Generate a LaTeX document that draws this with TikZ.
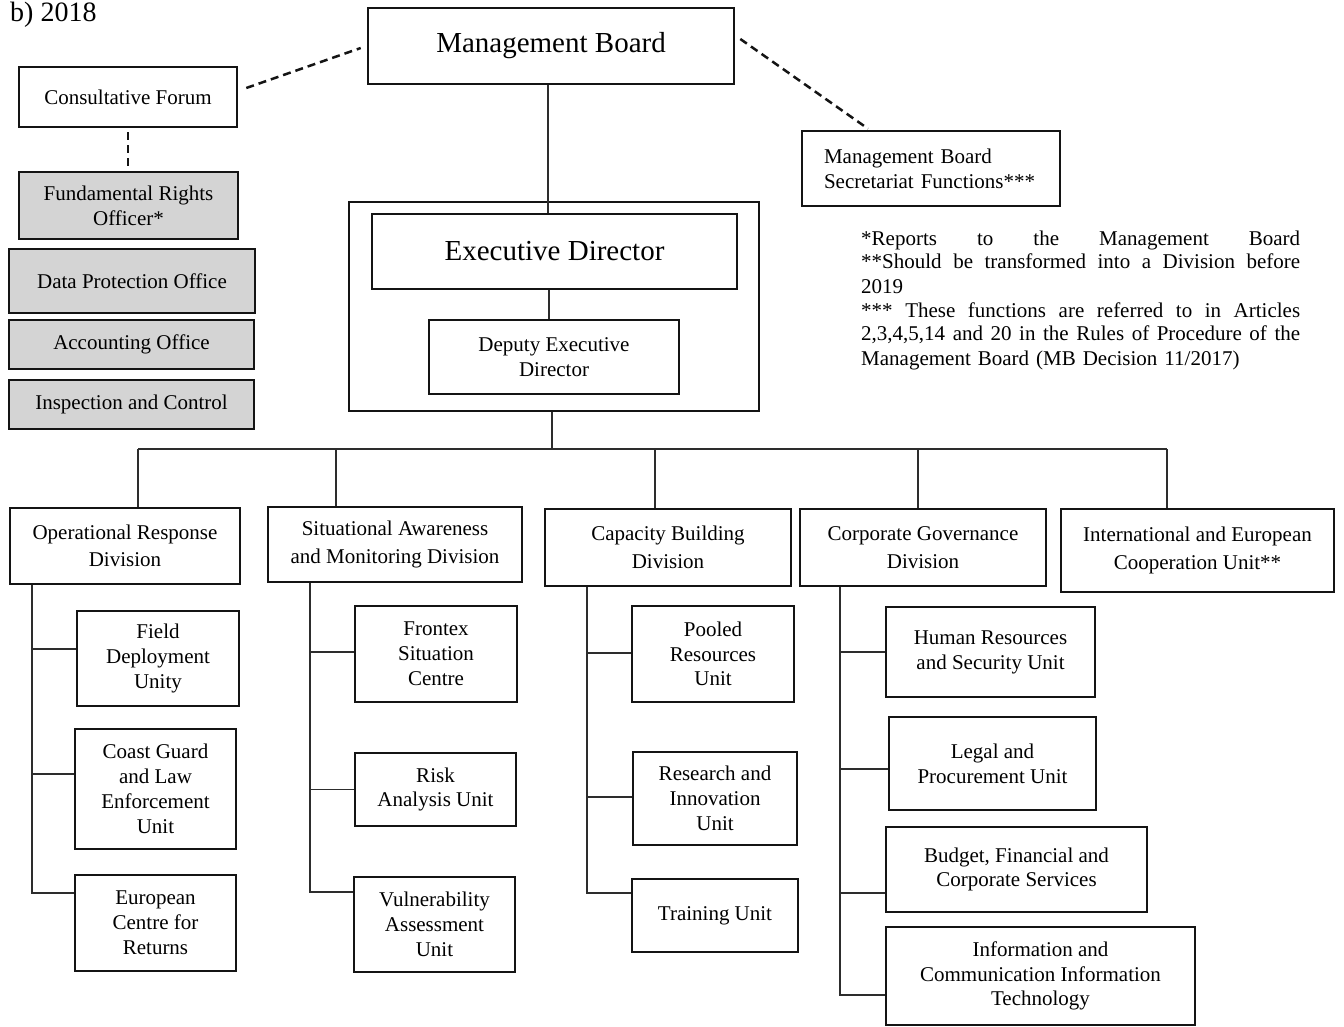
\documentclass[tikz,border=0pt]{standalone}
\usepackage{fontspec}
\setmainfont{Liberation Serif}
\definecolor{boxgray}{RGB}{212,212,212}
\definecolor{boxline}{RGB}{20,20,20}
\definecolor{connline}{RGB}{45,45,45}
% a line of the notes spread over the full measure
\newcommand{\spreadline}[1]{\makebox[439pt][s]{\spaceskip=.25em plus 1fil\relax #1}}
\begin{document}
\begin{tikzpicture}[x=1pt,y=-1pt,
  box/.style={draw=boxline, line width=2.6pt, inner sep=0pt, align=center,
              font=\fontsize{21}{24.8}\selectfont},
  greybox/.style={box, fill=boxgray},
  divbox/.style={box, font=\fontsize{21}{27.5}\selectfont},
  bigbox/.style={box, font=\fontsize{29}{34}\selectfont},
  conn/.style={draw=connline, line width=1.4pt},
  dashlink/.style={draw=boxline, line width=2.5pt, dash pattern=on 8pt off 5pt}]
\useasboundingbox (0,0) rectangle (1344,1027);
\fill[white] (0,0) rectangle (1344,1027);

% heading
\node[anchor=base west, inner sep=0pt, font=\fontsize{28}{32}\selectfont] (yr) at (10,22) {b) 2018};

% top level
\node[bigbox, minimum width=366pt, minimum height=76pt] (MB) at (551,46) {Management Board};
\node[box, minimum width=218pt, minimum height=60pt] (CF) at (128,97) {Consultative Forum};
\node[box, align=left, text width=214pt, inner xsep=22pt, minimum height=75pt] (MBS) at (931,168.5)
  {Management Board\\Secretariat Functions***};

% offices on the left
\node[greybox, minimum width=219pt, minimum height=67pt] (FRO) at (128.5,205.5) {Fundamental Rights\\Officer*};
\node[greybox, minimum width=246pt, minimum height=64pt] (DPO) at (132,281) {Data Protection Office};
\node[greybox, minimum width=245pt, minimum height=49pt] (ACO) at (131.5,344.5) {Accounting Office};
\node[greybox, minimum width=245pt, minimum height=49pt] (INC) at (131.5,404.5) {Inspection and Control};

% executive block
\node[box, minimum width=410pt, minimum height=209pt] (EX) at (554,306.5) {};
\node[bigbox, minimum width=365pt, minimum height=75pt] (ED) at (554.5,251.5) {Executive Director};
\node[box, minimum width=250pt, minimum height=74pt] (DED) at (554,357) {Deputy Executive\\Director};

% footnotes
\node[anchor=base west, inner sep=0pt, text width=439pt, align=left,
      font=\fontsize{21}{24}\selectfont] (note) at (861,245) {%
\spreadline{*Reports to the Management Board}\\
\spreadline{**Should be transformed into a Division before}\\
2019\\
\spreadline{*** These functions are referred to in Articles}\\
\spreadline{2,3,4,5,14 and 20 in the Rules of Procedure of the}\\
Management Board (MB Decision 11/2017)};

% divisions
\node[divbox, minimum width=230pt, minimum height=76pt] (OPR) at (125,546) {Operational Response\\Division};
\node[divbox, minimum width=254pt, minimum height=75pt] (SAM) at (395,544.5) {Situational Awareness\\and Monitoring Division};
\node[divbox, minimum width=246pt, minimum height=77pt] (CBD) at (668,547.5) {Capacity Building\\Division};
\node[divbox, minimum width=246pt, minimum height=77pt] (CGD) at (923,547.5) {Corporate Governance\\Division};
\node[divbox, minimum width=273pt, minimum height=83pt] (IEC) at (1197.5,550.5) {International and European\\Cooperation Unit**};

% units
\node[box, minimum width=162pt, minimum height=95pt] (FDU) at (158,658.5) {Field\\Deployment\\Unity};
\node[box, minimum width=161pt, minimum height=120pt] (CGL) at (155.5,789) {Coast Guard\\and Law\\Enforcement\\Unit};
\node[box, minimum width=161pt, minimum height=96pt] (ECR) at (155.5,923) {European\\Centre for\\Returns};

\node[box, minimum width=162pt, minimum height=96pt] (FSC) at (436,654) {Frontex\\Situation\\Centre};
\node[box, minimum width=161pt, minimum height=73pt] (RAU) at (435.5,789.5) {Risk\\Analysis Unit};
\node[box, minimum width=161pt, minimum height=95pt] (VAU) at (434.5,924.5) {Vulnerability\\Assessment\\Unit};

\node[box, minimum width=162pt, minimum height=96pt] (PRU) at (713,654) {Pooled\\Resources\\Unit};
\node[box, minimum width=164pt, minimum height=93pt] (RIU) at (715,798.5) {Research and\\Innovation\\Unit};
\node[box, minimum width=166pt, minimum height=73pt] (TRU) at (715,915.5) {Training Unit};

\node[box, minimum width=209pt, minimum height=90pt] (HRS) at (990.5,652) {Human Resources\\and Security Unit};
\node[box, minimum width=207pt, minimum height=93pt] (LPU) at (992.5,763.5) {Legal and\\Procurement Unit};
\node[box, minimum width=261pt, minimum height=85pt] (BFC) at (1016.5,869.5) {Budget, Financial and\\Corporate Services};
\node[box, minimum width=309pt, minimum height=98pt] (ICT) at (1040.5,976) {Information and\\Communication Information\\Technology};

% dashed links
\draw[dashlink] ([xshift=8pt,yshift=9pt]CF.east) -- ([xshift=-6pt,yshift=-2pt]MB.west);
\draw[dashlink] ([xshift=5pt,yshift=7pt]MB.east) -- ([xshift=-63pt,yshift=1pt]MBS.north);
\draw[dashlink] ([yshift=-4pt]CF.south) -- (CF.south |- FRO.north);

% reporting lines at the top
\draw[conn, line width=1.2pt] ([xshift=-3pt]MB.south) -- ([xshift=-3pt]MB.south |- ED.north);
\draw[conn, line width=1.2pt] ([xshift=-5pt]DED.north) -- ([xshift=-5pt]DED.north |- ED.south);

% bus to the divisions
\coordinate (bus) at (552,449);
\coordinate (d1) at (138,449);
\coordinate (d2) at (336,449);
\coordinate (d3) at (655,449);
\coordinate (d4) at (918,449);
\coordinate (d5) at (1167,449);
\draw[conn] (bus |- EX.south) -- (bus);
\draw[conn] (d1) -- (d5);
\draw[conn] (d1) -- (d1 |- OPR.north);
\draw[conn] (d2) -- (d2 |- SAM.north);
\draw[conn] (d3) -- (d3 |- CBD.north);
\draw[conn] (d4) -- (d4 |- CGD.north);
\draw[conn] (d5) -- (d5 |- IEC.north);

% stems from each division to its units
\coordinate (s1) at (32,0);
\coordinate (s2) at (310,0);
\coordinate (s3) at (587,0);
\coordinate (s4) at (840,0);

\coordinate (b11) at ([yshift=9.5pt]FDU.west);
\coordinate (b12) at ([yshift=15pt]CGL.west);
\coordinate (b13) at ([yshift=30pt]ECR.west);
\draw[conn] (s1 |- OPR.south) -- (s1 |- b13) -- (b13);
\draw[conn] (s1 |- b11) -- (b11);
\draw[conn] (s1 |- b12) -- (b12);

\coordinate (b21) at ([yshift=2pt]FSC.west);
\coordinate (b22) at (RAU.west);
\coordinate (b23) at ([yshift=32.5pt]VAU.west);
\draw[conn] (s2 |- SAM.south) -- (s2 |- b23) -- (b23);
\draw[conn] (s2 |- b21) -- (b21);
\draw[conn] (s2 |- b22) -- (b22);

\coordinate (b31) at ([yshift=1pt]PRU.west);
\coordinate (b32) at ([yshift=1.5pt]RIU.west);
\coordinate (b33) at ([yshift=22.5pt]TRU.west);
\draw[conn] (s3 |- CBD.south) -- (s3 |- b33) -- (b33);
\draw[conn] (s3 |- b31) -- (b31);
\draw[conn] (s3 |- b32) -- (b32);

\coordinate (b41) at (HRS.west);
\coordinate (b42) at ([yshift=-5.5pt]LPU.west);
\coordinate (b43) at ([yshift=-23.5pt]BFC.west);
\coordinate (b44) at ([yshift=-19pt]ICT.west);
\draw[conn] (s4 |- CGD.south) -- (s4 |- b44) -- (b44);
\draw[conn] (s4 |- b41) -- (b41);
\draw[conn] (s4 |- b42) -- (b42);
\draw[conn] (s4 |- b43) -- (b43);
\end{tikzpicture}
\end{document}
